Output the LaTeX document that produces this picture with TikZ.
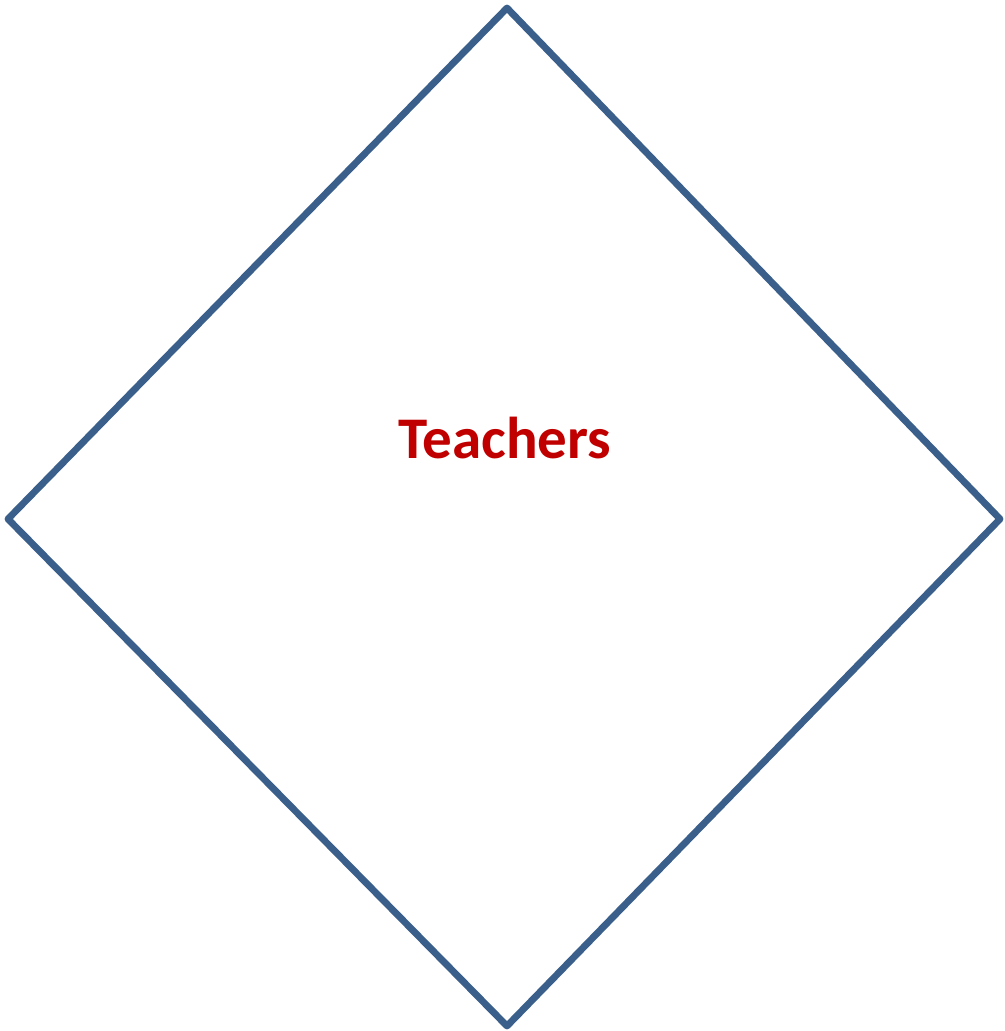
\documentclass[tikz,border=0pt]{standalone}
\usepackage{fontspec}
\setmainfont{Carlito}
\definecolor{edgeblue}{HTML}{3A5F8B}
\definecolor{labelred}{HTML}{C00000}
\begin{document}
\begin{tikzpicture}[x=0.02cm, y=-0.02cm, line join=round, line cap=round]
				\useasboundingbox (0,0) rectangle (1004,1031);
				\path	(507,8) coordinate (T)
				(8,519) coordinate (L)
				(1000,519) coordinate (R)
				(507,1026) coordinate (B);
				\draw[edgeblue, line width=3.9pt] (T)--(R)--(B)--(L)--cycle;
				\node[text=labelred, font=\bfseries\fontsize{33.6}{40}\selectfont] (teachers) at (505,438) {Teachers};
		\end{tikzpicture}
\end{document}
